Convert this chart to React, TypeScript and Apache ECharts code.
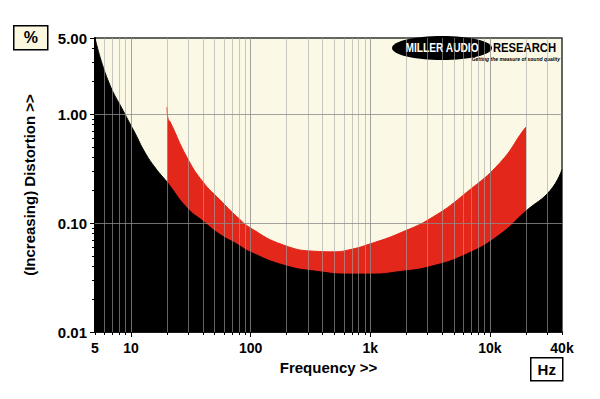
import React, { useEffect, useRef } from "react";
import * as echarts from "echarts";

// Frequency (Hz) / distortion (%)
const blackFreq = [5, 6.4, 8.9, 10.8, 13, 16, 20, 29, 40, 55, 77, 100, 190, 360, 680, 1000, 1800, 3200, 6400, 12000, 20000, 32000, 40000];
const blackDist = [5.0, 2.06, 1.0, 0.67, 0.45, 0.32, 0.238, 0.14, 0.104, 0.079, 0.064, 0.054, 0.041, 0.036, 0.034, 0.034, 0.036, 0.04, 0.052, 0.078, 0.129, 0.2, 0.31];

const redFreq = [20, 20.4, 21.2, 29.4, 40, 55.5, 77, 100, 187, 357, 490, 675, 1000, 1770, 3350, 6440, 12180, 19000, 20000];
const redDist = [1.16, 0.9, 0.85, 0.4, 0.238, 0.163, 0.114, 0.09, 0.063, 0.055, 0.0545, 0.057, 0.0645, 0.081, 0.114, 0.193, 0.36, 0.71, 0.76];

const xLabelValues = [5, 10, 100, 1000, 10000, 40000];
const xMinorValues = [6, 7, 8, 9, 20, 30, 40, 50, 60, 70, 80, 90, 200, 300, 400, 500, 600, 700, 800, 900, 2000, 3000, 4000, 5000, 6000, 7000, 8000, 9000, 20000, 30000];
const xMajorGrid = [10, 100, 1000, 10000];
const yLabelValues = [0.01, 0.1, 1, 5];
const yMajorGrid = [0.1, 1];
const yMinorValues = [0.02, 0.03, 0.04, 0.05, 0.06, 0.07, 0.08, 0.09, 0.2, 0.3, 0.4, 0.5, 0.6, 0.7, 0.8, 0.9, 2, 3, 4];

const FONT = "'Liberation Sans', Arial, sans-serif";

export default function App() {
  const ref = useRef<HTMLDivElement>(null);
  useEffect(() => {
    document.body.style.margin = "0";
    if (!ref.current) return;
    const chart = echarts.init(ref.current, null, { renderer: "svg" });
    const blackData = blackFreq.map((f, i) => [f, blackDist[i]]);
    const redData = redFreq.map((f, i) => [f, redDist[i]]);
    const allXTicks = [...xLabelValues, ...xMinorValues].sort((a, b) => a - b);

    chart.setOption({
      animation: false,
      backgroundColor: "#ffffff",
      grid: {
        left: 95,
        right: 38,
        top: 38,
        bottom: 67,
        show: true,
        backgroundColor: "#fbf9e6",
        borderColor: "#333333",
        borderWidth: 1.5,
      },
      xAxis: [
        {
          type: "log",
          logBase: 10,
          min: 5,
          max: 40000,
          position: "bottom",
          name: "Frequency >>",
          nameLocation: "middle",
          nameGap: 27,
          nameTextStyle: { fontFamily: FONT, fontWeight: "bold", fontSize: 15, color: "#000" },
          axisLine: { show: true, lineStyle: { color: "#000", width: 1.5 } },
          axisTick: { show: true, length: 3, customValues: allXTicks, lineStyle: { color: "#000" } },
          axisLabel: {
            customValues: xLabelValues,
            margin: 9,
            fontFamily: FONT,
            fontWeight: "bold",
            fontSize: 14,
            color: "#000",
            formatter: (v: number) => {
              const r = Math.round(v);
              return r >= 1000 ? r / 1000 + "k" : String(r);
            },
          },
          splitLine: { show: false },
        },
        {
          type: "log",
          logBase: 10,
          min: 5,
          max: 40000,
          position: "bottom",
          axisLine: { show: false },
          axisTick: { show: true, length: 5, customValues: xMajorGrid, lineStyle: { color: "#000" } },
          axisLabel: { show: false },
          splitLine: { show: false },
        },
      ],
      yAxis: [
        {
          type: "log",
          logBase: 10,
          min: 0.01,
          max: 5,
          position: "left",
          name: "(Increasing) Distortion >>",
          nameLocation: "middle",
          nameGap: 58,
          nameTextStyle: { fontFamily: FONT, fontWeight: "bold", fontSize: 15, color: "#000" },
          axisLine: { show: true, lineStyle: { color: "#000", width: 2 } },
          axisTick: { show: true, length: 5, customValues: yLabelValues, lineStyle: { color: "#000" } },
          axisLabel: {
            customValues: yLabelValues,
            margin: 8,
            fontFamily: FONT,
            fontWeight: "bold",
            fontSize: 15,
            color: "#000",
            formatter: (v: number) => v.toFixed(2),
          },
          splitLine: { show: false },
        },
        {
          type: "log",
          logBase: 10,
          min: 0.01,
          max: 5,
          position: "left",
          axisLine: { show: false },
          axisTick: { show: true, length: 3, customValues: yMinorValues, lineStyle: { color: "#000" } },
          axisLabel: { show: false },
          splitLine: { show: false },
        },
      ],
      series: [
        {
          type: "line",
          name: "upper",
          data: redData,
          smooth: 0.5,
          symbol: "none",
          z: 1,
          lineStyle: { color: "#e4271b", width: 1 },
          areaStyle: { color: "#e4271b", opacity: 1, origin: "start" },
        },
        {
          type: "line",
          name: "lower",
          data: blackData,
          smooth: 0.5,
          symbol: "none",
          z: 2,
          lineStyle: { color: "#000", width: 1 },
          areaStyle: { color: "#000", opacity: 1, origin: "start" },
        },
        {
          type: "line",
          name: "minorGrid",
          data: [],
          z: 10,
          markLine: {
            silent: true,
            symbol: ["none", "none"],
            label: { show: false },
            lineStyle: { color: "rgba(165,165,165,0.6)", width: 1, type: "solid" },
            data: xMinorValues.map((v) => ({ xAxis: v })),
          },
        },
        {
          type: "line",
          name: "majorGrid",
          data: [],
          z: 11,
          markLine: {
            silent: true,
            symbol: ["none", "none"],
            label: { show: false },
            lineStyle: { color: "rgba(140,140,140,0.8)", width: 1, type: "solid" },
            data: [...xMajorGrid.map((v) => ({ xAxis: v })), ...yMajorGrid.map((v) => ({ yAxis: v }))],
          },
        },
      ],
      graphic: [
        {
          type: "group",
          left: 13,
          top: 25,
          children: [
            { type: "rect", shape: { x: 0, y: 0, width: 34, height: 24 }, style: { fill: "#fbf8e0", stroke: "#000", lineWidth: 1.5 } },
            { type: "text", x: 17, y: 12, style: { text: "%", fontFamily: FONT, fontWeight: "bold", fontSize: 16, fill: "#000", align: "center", verticalAlign: "middle" } },
          ],
        },
        {
          type: "group",
          left: 530,
          top: 357,
          children: [
            { type: "rect", shape: { x: 0, y: 0, width: 32, height: 23 }, style: { fill: "#fff", stroke: "#000", lineWidth: 1.5 } },
            { type: "text", x: 16, y: 12, style: { text: "Hz", fontFamily: FONT, fontWeight: "bold", fontSize: 15, fill: "#000", align: "center", verticalAlign: "middle" } },
          ],
        },
        {
          type: "group",
          left: 392,
          top: 36,
          z: 20,
          children: [
            { type: "ellipse", shape: { cx: 50, cy: 12, rx: 50, ry: 12 }, style: { fill: "#000" } },
            { type: "text", x: 50, y: 12, scaleX: 0.85, style: { text: "MILLER AUDIO", fontFamily: FONT, fontWeight: "bold", fontSize: 12, fill: "#fff", align: "center", verticalAlign: "middle" } },
            { type: "text", x: 101, y: 12, scaleX: 0.9, style: { text: "RESEARCH", fontFamily: FONT, fontWeight: "bold", fontSize: 12.5, fill: "#000", align: "left", verticalAlign: "middle" } },
            { type: "text", x: 168, y: 23, style: { text: "Getting the measure of sound quality", fontFamily: FONT, fontWeight: "bold", fontStyle: "italic", fontSize: 5, fill: "#000", align: "right", verticalAlign: "middle" } },
          ],
        },
      ],
    });
    return () => chart.dispose();
  }, []);
  return <div ref={ref} style={{ width: 600, height: 399 }} />;
}
